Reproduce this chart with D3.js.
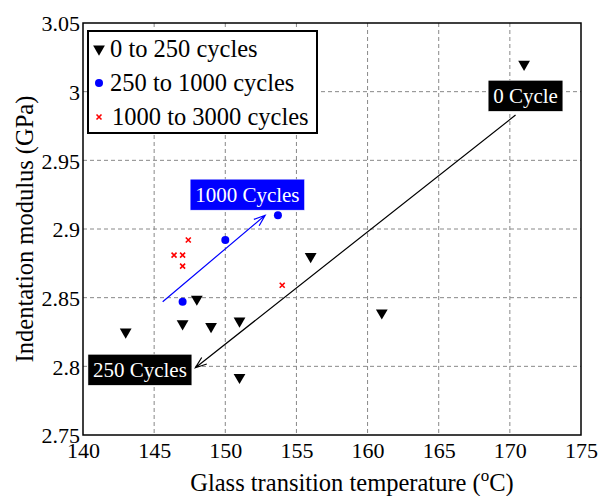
<!DOCTYPE html>
<html><head><meta charset="utf-8">
<script src="https://cdn.jsdelivr.net/npm/d3@7"></script>
<style>body{margin:0;background:#fff}svg{display:block}svg text{font-family:"Liberation Serif","Times New Roman",Tinos,Times,"DejaVu Serif",serif !important}</style>
</head><body><svg id="c" width="604" height="496"></svg>
<script>
const xTicks = [140,145,150,155,160,165,170,175];
const yTicks = [2.75,2.8,2.85,2.9,2.95,3,3.05];
const yTickLabels = ["2.75","2.8","2.85","2.9","2.95","3","3.05"];
const seriesNames = ["0 to 250 cycles","250 to 1000 cycles","1000 to 3000 cycles"];
const tgLow = [171,156,148,161,147,149,151,151,143];
const emLow = [3.020,2.880,2.849,2.839,2.831,2.829,2.833,2.792,2.825];
const tgMid = [147,150,153.7];
const emMid = [2.847,2.892,2.910];
const tgHigh = [147.4,146.4,147.0,147.0,154.0];
const emHigh = [2.892,2.881,2.881,2.873,2.859];
const annoText = ["0 Cycle","1000 Cycles","250 Cycles"];
const annoX = [171.1,151.55,144.0];
const annoY = [2.997,2.925,2.7975];
const annoFill = ["#000","#0000ff","#000"];
const arrowFrom = [[170.4,2.983],[145.6,2.847]];
const arrowTo = [[147.9,2.799],[152.8,2.910]];
const arrowColor = ["#000","#0000ff"];

const FONT = '"Liberation Serif","Times New Roman",Tinos,Times,"DejaVu Serif",serif';
const svg = d3.select("#c");
const L=83,R=581,T=23,B=435;
const x = d3.scaleLinear().domain([140,175]).range([L,R]);
const y = d3.scaleLinear().domain([2.75,3.05]).range([B,T]);

// grid
const g = svg.append("g");
g.selectAll(".gx").data(xTicks.slice(1,-1)).enter().append("line")
 .attr("x1",d=>x(d)).attr("x2",d=>x(d)).attr("y1",T).attr("y2",B)
 .attr("stroke","#888").attr("stroke-width",1).attr("stroke-dasharray","4,3");
g.selectAll(".gy").data(yTicks.slice(1,-1)).enter().append("line")
 .attr("y1",d=>y(d)).attr("y2",d=>y(d)).attr("x1",L).attr("x2",R)
 .attr("stroke","#888").attr("stroke-width",1).attr("stroke-dasharray","4,3");

// axes
const xa = svg.append("g").attr("transform",`translate(0,${B})`)
 .call(d3.axisBottom(x).tickValues(xTicks).tickSize(0).tickPadding(8).tickFormat(d3.format("d")));
xa.attr("font-family",FONT).attr("font-size",22);
xa.select(".domain").remove();
xa.selectAll("text").attr("fill","#000").attr("dy",null).attr("y",23);
const ya = svg.append("g").attr("transform",`translate(${L},0)`)
 .call(d3.axisLeft(y).tickValues(yTicks).tickSize(0).tickPadding(3).tickFormat((d,i)=>yTickLabels[i]));
ya.attr("font-family",FONT).attr("font-size",22);
ya.select(".domain").remove();
ya.selectAll("text").attr("fill","#000").attr("dy","0.35em");

// box
svg.append("rect").attr("x",L).attr("y",T).attr("width",R-L).attr("height",B-T)
 .attr("fill","none").attr("stroke","#000").attr("stroke-width",1.5);

// labels
const xl = svg.append("text").attr("x",352).attr("y",491).attr("text-anchor","middle").attr("font-size",24.5);
xl.append("tspan").text("Glass transition temperature (");
xl.append("tspan").attr("dy",-10).attr("font-size",17).text("o");
xl.append("tspan").attr("dy",10).text("C)");
svg.append("text").attr("transform","translate(33,229) rotate(-90)").attr("text-anchor","middle")
 .attr("font-size",24.5).text("Indentation modulus (GPa)");

// markers
const tri = d3.symbol().type(d3.symbolTriangle).size(60);
svg.selectAll(".lo").data(tgLow).enter().append("path")
 .attr("d",tri).attr("transform",(d,i)=>`translate(${x(d)},${y(emLow[i])}) rotate(180)`).attr("fill","#000");
svg.selectAll(".mi").data(tgMid).enter().append("circle")
 .attr("cx",d=>x(d)).attr("cy",(d,i)=>y(emMid[i])).attr("r",4).attr("fill","#0000ff");
const cross = (sel,cx,cy,s)=>{sel.append("path").attr("d",`M${cx-s},${cy-s}L${cx+s},${cy+s}M${cx-s},${cy+s}L${cx+s},${cy-s}`)
 .attr("stroke","#ff0000").attr("stroke-width",1.6).attr("fill","none");};
tgHigh.forEach((d,i)=>cross(svg,x(d),y(emHigh[i]),2.5));

// arrows
arrowFrom.forEach((f,i)=>{
 const x1=x(f[0]),y1=y(f[1]),x2=x(arrowTo[i][0]),y2=y(arrowTo[i][1]);
 const a=Math.atan2(y2-y1,x2-x1), hl=12, ha=0.35;
 svg.append("path").attr("d",`M${x1},${y1}L${x2},${y2}M${x2-hl*Math.cos(a-ha)},${y2-hl*Math.sin(a-ha)}L${x2},${y2}L${x2-hl*Math.cos(a+ha)},${y2-hl*Math.sin(a+ha)}`)
  .attr("stroke",arrowColor[i]).attr("stroke-width",1.2).attr("fill","none");
});

// annotation boxes
annoText.forEach((t,i)=>{
 const gg=svg.append("g");
 const tx=gg.append("text").attr("x",x(annoX[i])).attr("y",y(annoY[i])+7).attr("text-anchor","middle")
  .attr("font-size",21).attr("fill","#fff").text(t);
 const bb=tx.node().getBBox();
 gg.insert("rect","text").attr("x",bb.x-5).attr("y",y(annoY[i])-15.5).attr("width",bb.width+10).attr("height",31)
  .attr("fill",annoFill[i]).attr("stroke","#fff").attr("stroke-width",0.5);
});

// legend
const lg = svg.append("g");
lg.append("rect").attr("x",88).attr("y",31).attr("width",229).attr("height",102)
 .attr("fill","#fff").attr("stroke","#000").attr("stroke-width",2);
const ly=[57,91,125];
lg.append("path").attr("d",tri).attr("transform",`translate(99,${ly[0]-8}) rotate(180)`).attr("fill","#000");
lg.append("circle").attr("cx",99).attr("cy",ly[1]-8).attr("r",4).attr("fill","#0000ff");
cross(lg,99,ly[2]-8,2.5);
seriesNames.forEach((s,i)=>lg.append("text").attr("x",110+(i==2?2:0)).attr("y",ly[i]).attr("font-size",24.5).text(s));
</script></body></html>
